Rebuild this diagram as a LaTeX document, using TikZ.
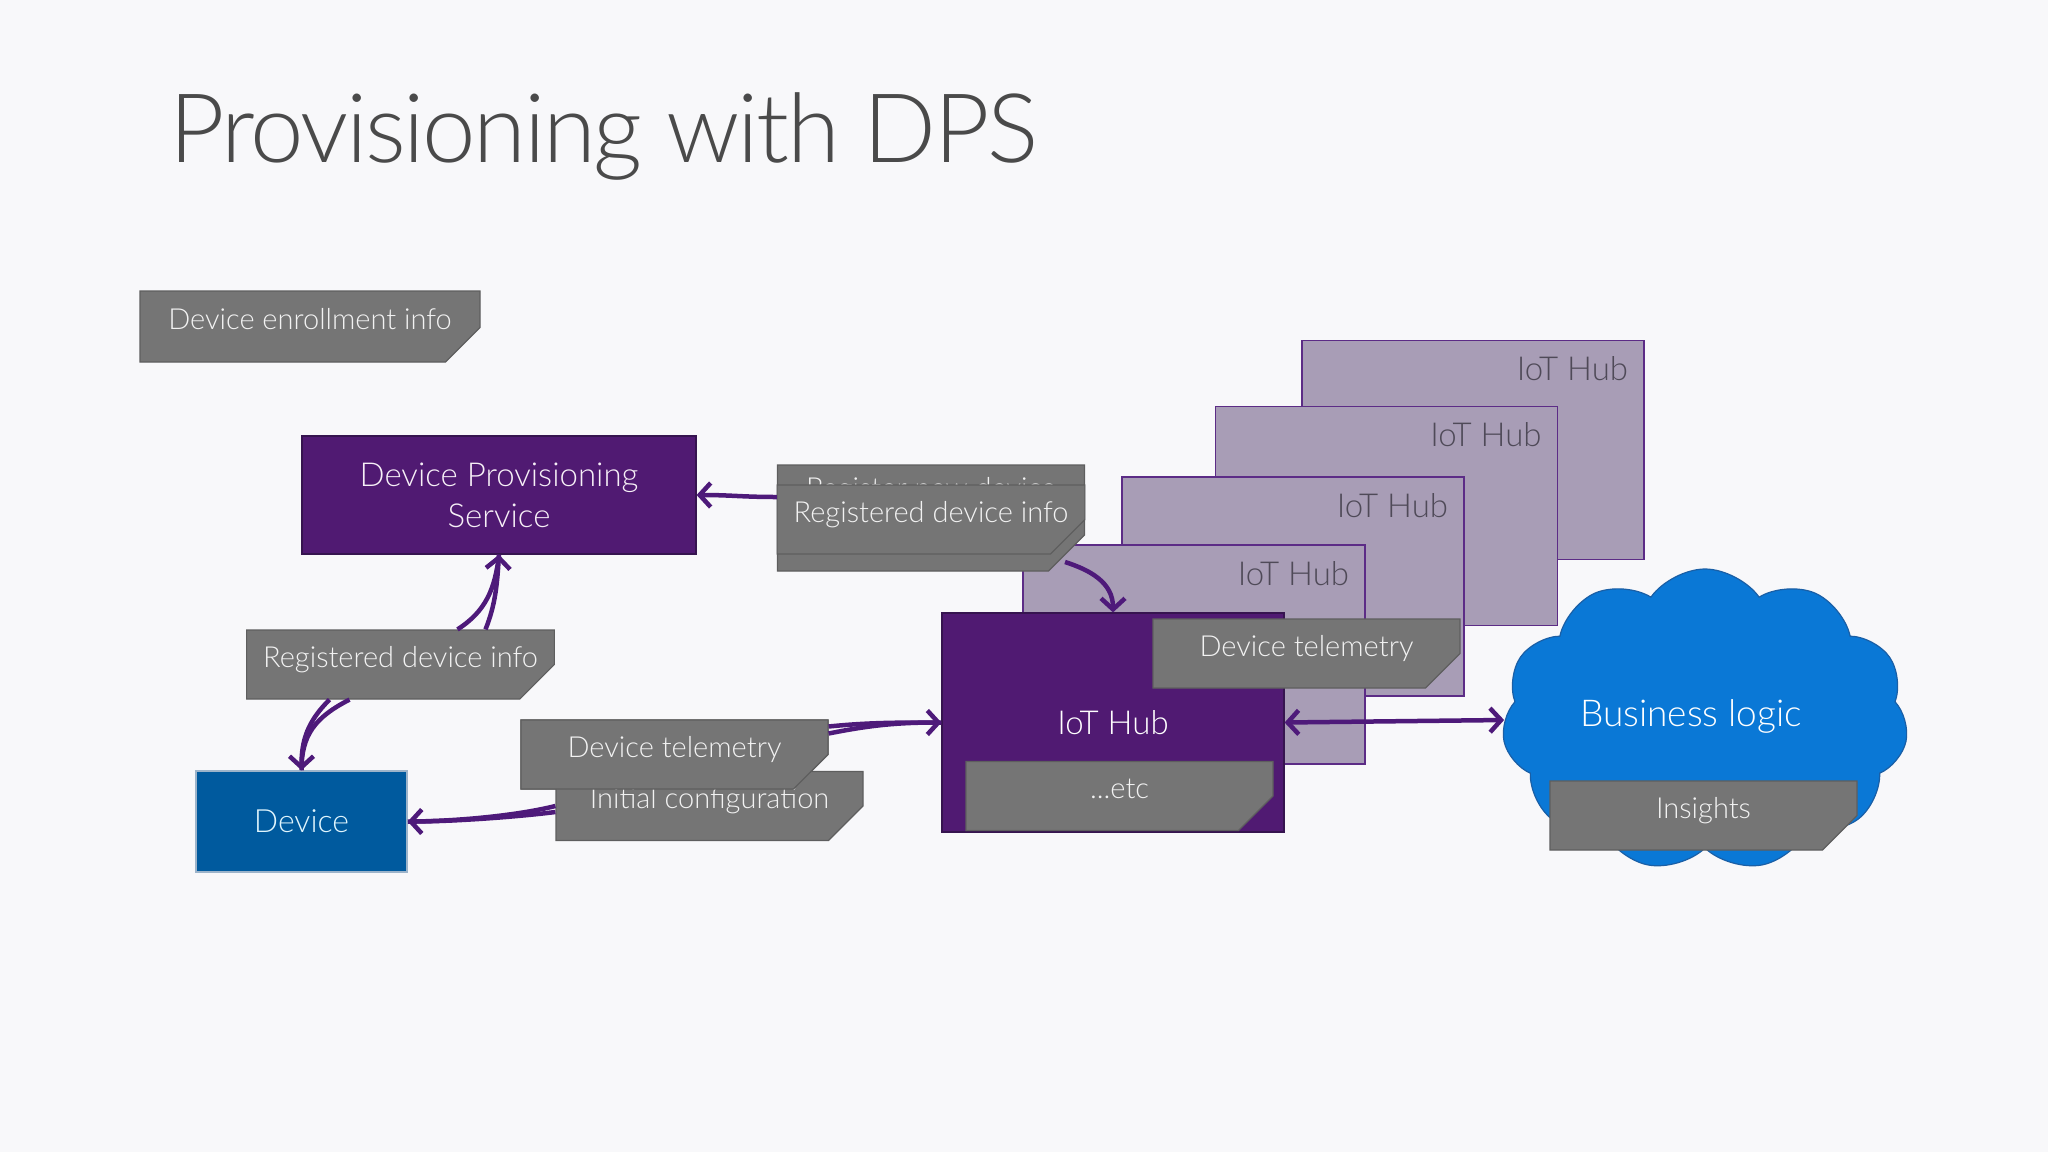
\documentclass[tikz,border=0pt]{standalone}
\usepackage{fontspec}
\IfFontExistsTF{Lato Light}{\setmainfont{Lato Light}}{%
  \IfFontExistsTF{Fira Sans Light}{\setmainfont{Fira Sans Light}}{\setmainfont{Open Sans}}}
\usepackage{tikz}
\usetikzlibrary{positioning,calc,arrows.meta,shapes.misc,shapes.symbols}

\definecolor{slidebg}{HTML}{F8F8FA}
\definecolor{titlegrey}{HTML}{4A4A4A}
\definecolor{notegrey}{HTML}{757575}
\definecolor{noteline}{HTML}{5E5E5E}
\definecolor{notefold}{HTML}{595959}
\definecolor{dpspurple}{HTML}{501A72}
\definecolor{dpsline}{HTML}{36144F}
\definecolor{hublilac}{HTML}{A89DB6}
\definecolor{hubline}{HTML}{5C2C86}
\definecolor{hubtext}{HTML}{4F4A58}
\definecolor{deviceblue}{HTML}{005A9E}
\definecolor{deviceline}{HTML}{9DB4CA}
\definecolor{cloudblue}{HTML}{0A78D6}
\definecolor{cloudline}{HTML}{1A5FA6}
\definecolor{flowpurple}{HTML}{4E1A7A}

\begin{document}
\begin{tikzpicture}[
    x=1pt, y=-1pt,
    note/.style={
        chamfered rectangle,
        chamfered rectangle corners=south east,
        chamfered rectangle sep=18pt,
        fill=notegrey,
        draw=noteline,
        line width=1.2pt,
        minimum width=307pt,
        minimum height=69pt,
        inner sep=0pt,
        text=white!95!black,
        font=\fontsize{29}{35}\selectfont,
        text height=19pt,
        text depth=14pt,
        path picture={
            \fill[notefold]
                ([shift={(-18,0)}]path picture bounding box.south east) --
                ([shift={(0,-18)}]path picture bounding box.south east) --
                ([shift={(-17,-13)}]path picture bounding box.south east) -- cycle;
        }
    },
    service/.style={
        rectangle,
        fill=dpspurple,
        draw=dpsline,
        line width=1.2pt,
        align=center,
        text=white!94!violet,
        font=\fontsize{33}{41}\selectfont
    },
    hubstack/.style={
        rectangle,
        fill=hublilac,
        draw=hubline,
        line width=1.2pt,
        minimum width=342pt,
        minimum height=219pt
    },
    hublabel/.style={
        anchor=base east,
        text=hubtext,
        font=\fontsize{33}{40}\selectfont
    },
    device/.style={
        rectangle,
        fill=deviceblue,
        draw=deviceline,
        line width=1.5pt,
        minimum width=211pt,
        minimum height=101pt,
        text=cyan!12!white,
        font=\fontsize{32}{40}\selectfont
    },
    logic/.style={
        cloud,
        cloud puffs=11,
        cloud puff arc=110,
        aspect=1.34,
        fill=cloudblue,
        draw=cloudline,
        line width=1.2pt,
        minimum width=406pt,
        minimum height=302pt
    },
    flow/.style={
        draw=flowpurple,
        line width=4.5pt,
        -{Straight Barb[length=11pt,width=24pt]}
    },
    wire/.style={
        draw=flowpurple,
        line width=4.5pt
    }
]

\fill[slidebg] (0,0) rectangle (2048,1152);
\useasboundingbox (0,0) rectangle (2048,1152);

% ------------------------------------------------------------
% Title and enrollment
% ------------------------------------------------------------

\node[anchor=base west, text=titlegrey,
      font=\fontsize{96}{110}\selectfont\addfontfeatures{LetterSpace=-2.5}]
    (title) at (166,162) {Provisioning with DPS};

\node[note, minimum width=340pt, minimum height=71pt] (enroll) at (310,326.5)
    {Device enrollment info};

% ------------------------------------------------------------
% Stack of IoT hubs
% ------------------------------------------------------------

\node[hubstack] (hubone) at (1473,450) {};
\node[hublabel] (hubonetext) at ([shift={(-13,41)}]hubone.north east) {IoT Hub};

\node[hubstack] (hubtwo) at ([shift={(-86.5,66)}]hubone.center) {};
\node[hublabel] (hubtwotext) at ([shift={(-13,41)}]hubtwo.north east) {IoT Hub};

\node[hubstack] (hubthree) at ([shift={(-93.5,70.5)}]hubtwo.center) {};
\node[hublabel] (hubthreetext) at ([shift={(-13,41)}]hubthree.north east) {IoT Hub};

\node[hubstack] (hubfour) at ([shift={(-99,68)}]hubthree.center) {};
\node[hublabel] (hubfourtext) at ([shift={(-13,41)}]hubfour.north east) {IoT Hub};

% ------------------------------------------------------------
% Business logic
% ------------------------------------------------------------

\node[logic] (logic) at (1705,720) {};
\node[anchor=base, text=white, font=\fontsize{37}{44}\selectfont]
    (logictext) at ([shift={(-14,6)}]logic.center) {Business logic};

\node[note] (insights) at ([shift={(-1.5,95.5)}]logic.center) {Insights};

% ------------------------------------------------------------
% Active IoT hub
% ------------------------------------------------------------

\node[hubstack, fill=dpspurple, draw=dpsline, text=white,
      font=\fontsize{33}{40}\selectfont, text height=23pt, text depth=0pt]
    (iothub) at ([shift={(-81,68)}]hubfour.center) {IoT Hub};

\node[note] (etc) at ([shift={(6.5,73.5)}]iothub.center) {...etc};
\node[note] (telemright) at (1306.5,653.5) {Device telemetry};

% ------------------------------------------------------------
% Provisioning service and device
% ------------------------------------------------------------

\node[service, minimum width=394pt, minimum height=118pt] (dps) at (499,495)
    {Device Provisioning\\Service};

\node[device] (device) at (301.5,821.5) {Device};

% ------------------------------------------------------------
% Messages
% ------------------------------------------------------------

\node[note, minimum height=106pt, text height=15pt, text depth=55pt] (regback)
    at (931,518) {Register new device};
\node[note] (regfront) at (931,519.5) {Registered device info};

\node[note] (regleft) at (400.5,664.5) {Registered device info};

\node[note] (telemleft) at (674.5,754.5) {Device telemetry};
\node[note] (initcfg) at ([shift={(35,51.5)}]telemleft.center) {Initial configuration};
\node[note] (telemtop) at (telemleft.center) {Device telemetry};

% ------------------------------------------------------------
% Flows
% ------------------------------------------------------------

\draw[flow]
    ([shift={(0,-21)}]regback.west)
    .. controls +(-35,0) and +(35,0) ..
    (dps.east);

\draw[flow]
    ([shift={(134,44)}]regback.center)
    .. controls +(25,8) and +(0,-30) ..
    (iothub.north);

\draw[wire]
    ([xshift=57pt]regleft.north)
    .. controls +(28,-18) and +(-4,35) ..
    (dps.south);
\draw[flow]
    ([xshift=85pt]regleft.north)
    .. controls +(10,-25) and +(-2,30) ..
    (dps.south);

\draw[wire]
    ([xshift=-51pt]regleft.south)
    .. controls +(-35,18) and +(0,-35) ..
    (device.north);
\draw[flow]
    ([xshift=-71pt]regleft.south)
    .. controls +(-22,22) and +(0,-30) ..
    (device.north);

\draw[wire]
    ([shift={(0,-28)}]telemtop.east)
    .. controls +(40,-4) and +(-45,0) ..
    (iothub.west);
\draw[flow]
    ([shift={(0,-21)}]telemtop.east)
    .. controls +(40,-8) and +(-45,0) ..
    (iothub.west);

\draw[wire]
    (initcfg.west)
    .. controls +(-40,10) and +(45,0) ..
    (device.east);
\draw[flow]
    ([shift={(0,6)}]initcfg.west)
    .. controls +(-40,5) and +(45,0) ..
    (device.east);

\draw[flow, {Straight Barb[length=11pt,width=24pt]}-{Straight Barb[length=11pt,width=24pt]}]
    (iothub.east) -- (logic.west);

\end{tikzpicture}
\end{document}
